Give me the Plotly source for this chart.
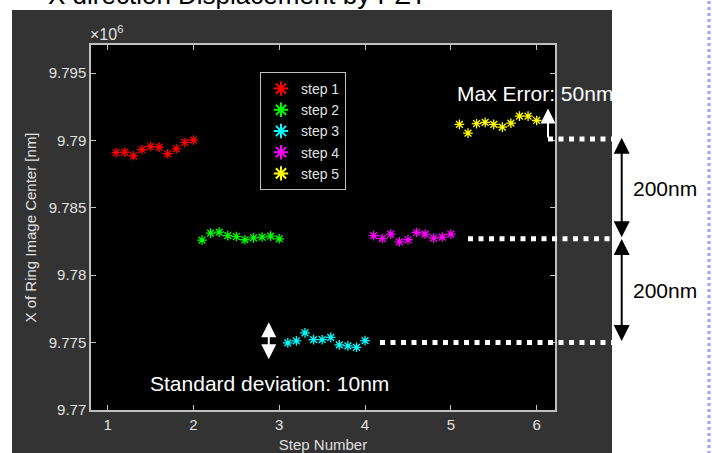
import plotly.graph_objects as go

# ---------------- data (Y in units of 10^6 nm) ----------------
step_names = ["step 1", "step 2", "step 3", "step 4", "step 5"]
colors = ["#ff0000", "#00ff00", "#00ffff", "#ff00ff", "#ffff00"]

x_step1 = [1.1, 1.2, 1.3, 1.4, 1.5, 1.6, 1.7, 1.8, 1.9, 2.0]
y_step1 = [9.78909, 9.78913, 9.78886, 9.78931, 9.78955, 9.78950, 9.78901, 9.78938, 9.78985, 9.79002]

x_step2 = [2.1, 2.2, 2.3, 2.4, 2.5, 2.6, 2.7, 2.8, 2.9, 3.0]
y_step2 = [9.78260, 9.78312, 9.78320, 9.78294, 9.78287, 9.78263, 9.78277, 9.78283, 9.78290, 9.78270]

x_step3 = [3.1, 3.2, 3.3, 3.4, 3.5, 3.6, 3.7, 3.8, 3.9, 4.0]
y_step3 = [9.77498, 9.77513, 9.77572, 9.77522, 9.77522, 9.77539, 9.77483, 9.77476, 9.77465, 9.77515]

x_step4 = [4.1, 4.2, 4.3, 4.4, 4.5, 4.6, 4.7, 4.8, 4.9, 5.0]
y_step4 = [9.78294, 9.78272, 9.78305, 9.78248, 9.78263, 9.78317, 9.78305, 9.78275, 9.78283, 9.78305]

x_step5 = [5.1, 5.2, 5.3, 5.4, 5.5, 5.6, 5.7, 5.8, 5.9, 6.0]
y_step5 = [9.79119, 9.79054, 9.79124, 9.79134, 9.79119, 9.79099, 9.79128, 9.79180, 9.79180, 9.79148]

x_ticks = [1, 2, 3, 4, 5, 6]
y_ticks = [9.77, 9.775, 9.78, 9.785, 9.79, 9.795]
y_ticklabels = ["9.77", "9.775", "9.78", "9.785", "9.79", "9.795"]

# reference levels for the guide lines (10^6 nm)
levels = [9.7901, 9.7827, 9.7750]
max_err_tip = 9.79237
std_arrow = [9.77651, 9.77366]

title_text = "X direction Displacement by PZT"
xlabel = "Step Number"
ylabel = "X of Ring Image Center [nm]"

# ---------------- figure ----------------
W, H = 712, 453
L, R, T, B = 91, 555, 45, 410   # plot area in pixels


def px(xp):
    return (xp - L) / (R - L)


def py(yp):
    return (B - yp) / (B - T)


FONT = "Liberation Sans, Arial, sans-serif"
LBL = "#e0e0e0"
AX = "#c0c0c0"

fig = go.Figure()
xs = [x_step1, x_step2, x_step3, x_step4, x_step5]
ys = [y_step1, y_step2, y_step3, y_step4, y_step5]
for name, c, xv, yv in zip(step_names, colors, xs, ys):
    fig.add_trace(go.Scatter(
        x=xv, y=yv, mode="markers", name=name,
        marker=dict(symbol="asterisk-open", size=8, color=c,
                    line=dict(color=c, width=1.3)),
    ))

shapes = [
    # dark grey figure area
    dict(type="rect", xref="paper", yref="paper", x0=px(12), x1=px(612),
         y0=py(460), y1=py(10), fillcolor="#333333", line=dict(width=0), layer="below"),
    # black axes area
    dict(type="rect", xref="paper", yref="paper", x0=0, x1=1, y0=0, y1=1,
         fillcolor="#000000", line=dict(width=0), layer="below"),
    # dotted guide lines
    dict(type="line", xref="paper", yref="y", x0=px(548), x1=px(612),
         y0=levels[0], y1=levels[0], line=dict(color="white", width=5, dash="5px,5.5px")),
    dict(type="line", xref="paper", yref="y", x0=px(468), x1=px(612),
         y0=levels[1], y1=levels[1], line=dict(color="white", width=5, dash="5px,5.5px")),
    dict(type="line", xref="paper", yref="y", x0=px(380), x1=px(612),
         y0=levels[2], y1=levels[2], line=dict(color="white", width=5, dash="5px,5.5px")),
    # page border (blue dotted)
    dict(type="line", xref="paper", yref="paper", x0=px(709), x1=px(709),
         y0=py(460), y1=py(-5), line=dict(color="#a0a0ff", width=3, dash="dot")),
]

annotations = [
    dict(text=title_text, xref="paper", yref="paper", x=px(46), y=py(-5),
         xanchor="left", yanchor="middle", showarrow=False,
         font=dict(family=FONT, size=26, color="black")),
    dict(text="×10<sup>6</sup>", xref="paper", yref="paper", x=px(88), y=py(33),
         xanchor="left", yanchor="middle", showarrow=False,
         font=dict(family=FONT, size=16, color=LBL)),
    # Max error
    dict(text="Max Error: 50nm", xref="paper", yref="y", x=px(455), y=9.79349,
         xanchor="left", yanchor="middle", showarrow=False,
         font=dict(family=FONT, size=21, color="white")),
    dict(text="", xref="paper", yref="y", x=px(548), y=max_err_tip,
         showarrow=True, arrowhead=2, arrowsize=1.5, arrowwidth=2, arrowcolor="white",
         axref="pixel", ayref="y", ax=0, ay=levels[0]),
    # std deviation
    dict(text="Standard deviation: 10nm", xref="paper", yref="y", x=px(148), y=9.77196,
         xanchor="left", yanchor="middle", showarrow=False,
         font=dict(family=FONT, size=21, color="white")),
    dict(text="", xref="x", yref="y", x=2.878, y=std_arrow[0],
         showarrow=True, arrowhead=2, startarrowhead=2, arrowside="end+start",
         arrowsize=1.5, startarrowsize=1.5, arrowwidth=2, arrowcolor="white",
         axref="pixel", ayref="y", ax=0, ay=std_arrow[1]),
    # 200nm spans
    dict(text="", xref="paper", yref="y", x=px(621.7), y=levels[0] + 0.0001,
         showarrow=True, arrowhead=2, startarrowhead=2, arrowside="end+start",
         arrowsize=1.6, startarrowsize=1.6, arrowwidth=2, arrowcolor="black",
         axref="pixel", ayref="y", ax=0, ay=levels[1]),
    dict(text="", xref="paper", yref="y", x=px(621.7), y=levels[1] - 0.00002,
         showarrow=True, arrowhead=2, startarrowhead=2, arrowside="end+start",
         arrowsize=1.6, startarrowsize=1.6, arrowwidth=2, arrowcolor="black",
         axref="pixel", ayref="y", ax=0, ay=levels[2]),
    dict(text="200nm", xref="paper", yref="y", x=px(631), y=(levels[0] + levels[1]) / 2,
         xanchor="left", yanchor="middle", showarrow=False,
         font=dict(family=FONT, size=21, color="black")),
    dict(text="200nm", xref="paper", yref="y", x=px(631), y=(levels[1] + levels[2]) / 2,
         xanchor="left", yanchor="middle", showarrow=False,
         font=dict(family=FONT, size=21, color="black")),
]

fig.update_layout(
    width=W, height=H,
    margin=dict(l=L, r=W - R, t=T, b=H - B, pad=0),
    paper_bgcolor="white", plot_bgcolor="black",
    font=dict(family=FONT, color=LBL),
    showlegend=True,
    legend=dict(x=px(260), y=py(72), xanchor="left", yanchor="top",
                bgcolor="black", bordercolor=AX, borderwidth=1,
                font=dict(family=FONT, size=14, color=LBL),
                tracegroupgap=0, itemsizing="constant"),
    shapes=shapes, annotations=annotations,
)

fig.update_xaxes(range=[0.806, 6.214], tickvals=x_ticks, ticks="inside", ticklen=5,
                 tickcolor=AX, linecolor=AX, linewidth=1.5, mirror="ticks",
                 showgrid=False, zeroline=False, showline=True,
                 tickfont=dict(family=FONT, size=15, color=LBL),
                 title=dict(text=xlabel, font=dict(family=FONT, size=15, color=LBL), standoff=11),
                 automargin=False)
fig.update_yaxes(range=[9.77, 9.79708], tickvals=y_ticks, ticktext=y_ticklabels,
                 ticks="inside", ticklen=5, tickcolor=AX, linecolor=AX, linewidth=1.5,
                 mirror="ticks", showgrid=False, zeroline=False, showline=True,
                 tickfont=dict(family=FONT, size=15, color=LBL),
                 title=dict(text=ylabel, font=dict(family=FONT, size=15, color=LBL), standoff=8),
                 automargin=False)

fig.write_html("out.html", config={"displayModeBar": False},
               post_script="document.body.style.margin='0px';")
